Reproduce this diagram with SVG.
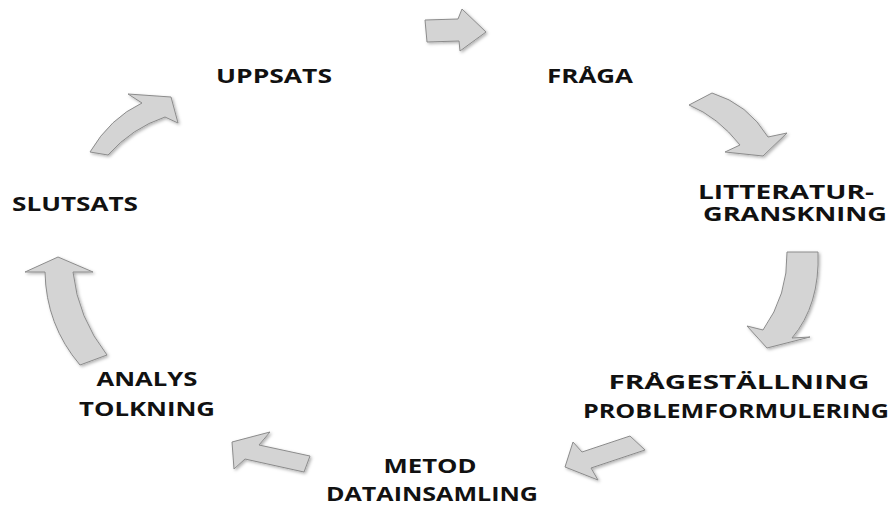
<svg xmlns="http://www.w3.org/2000/svg" width="892" height="507" viewBox="0 0 892 507">
  <defs>
    <filter id="sh" x="-20%" y="-20%" width="140%" height="140%">
      <feDropShadow dx="1.5" dy="1.5" stdDeviation="1.5" flood-color="#000" flood-opacity="0.3"/>
    </filter>
  </defs>
  <style>
    .lbl { font-family: "Open Sans", "Liberation Sans", sans-serif; font-weight: bold; font-size: 19px; fill: #111; text-anchor: middle; }
    .arr { fill: #d4d4d4; stroke: #8c8c8c; stroke-width: 1; stroke-linejoin: miter; filter: url(#sh); }
  </style>
  <rect width="892" height="507" fill="#ffffff"/>

  <g id="connectors">
    <path class="arr" d="M425,20 L458,19 L462,9 L486,32 L460,51 L459,41 L427,42 Z"/>
    <path class="arr" d="M712,93 Q748,104 768,137 L787,133 L763,156 L725,152 L740,145 Q718,117 689,105 Z"/>
    <path class="arr" d="M818,252 Q820,305 792,338 L810,337 L767,348 L747,326 L763,330 Q788,295 787,252 Z"/>
    <path class="arr" d="M565,467 L573,442 L582,452 L630,436 L645,450 L591,468 L598,480 Z"/>
    <path class="arr" d="M232,442 L270,432 L259,445 L310,456 L304,472 L245,459 L234,469 Z"/>
    <path class="arr" d="M58,257 L93,272 L73,272 Q78,318 107,355 L80,365 Q46,325 45,272 L25,272 Z"/>
    <path class="arr" d="M90,152 Q110,118 142,103 L128,94 L171,97 L178,123 L165,117 Q132,128 108,155 Z"/>
  </g>

  <g id="n-uppsats"><text class="lbl" x="274" y="83" textLength="116" lengthAdjust="spacingAndGlyphs">UPPSATS</text></g>
  <g id="n-fraga"><text class="lbl" x="590" y="83" textLength="86" lengthAdjust="spacingAndGlyphs">FRÅGA</text></g>
  <g id="n-litteratur">
    <text class="lbl" x="786" y="199" textLength="176" lengthAdjust="spacingAndGlyphs">LITTERATUR-</text>
    <text class="lbl" x="795" y="221" textLength="184" lengthAdjust="spacingAndGlyphs">GRANSKNING</text>
  </g>
  <g id="n-fragestallning">
    <text class="lbl" x="739" y="389" textLength="261" lengthAdjust="spacingAndGlyphs">FRÅGESTÄLLNING</text>
    <text class="lbl" x="736" y="418" textLength="306" lengthAdjust="spacingAndGlyphs">PROBLEMFORMULERING</text>
  </g>
  <g id="n-metod">
    <text class="lbl" x="430" y="473" textLength="93" lengthAdjust="spacingAndGlyphs">METOD</text>
    <text class="lbl" x="432" y="501" textLength="212" lengthAdjust="spacingAndGlyphs">DATAINSAMLING</text>
  </g>
  <g id="n-analys">
    <text class="lbl" x="147" y="386" textLength="101" lengthAdjust="spacingAndGlyphs">ANALYS</text>
    <text class="lbl" x="147" y="416" textLength="136" lengthAdjust="spacingAndGlyphs">TOLKNING</text>
  </g>
  <g id="n-slutsats"><text class="lbl" x="75" y="211" textLength="126" lengthAdjust="spacingAndGlyphs">SLUTSATS</text></g>
</svg>
